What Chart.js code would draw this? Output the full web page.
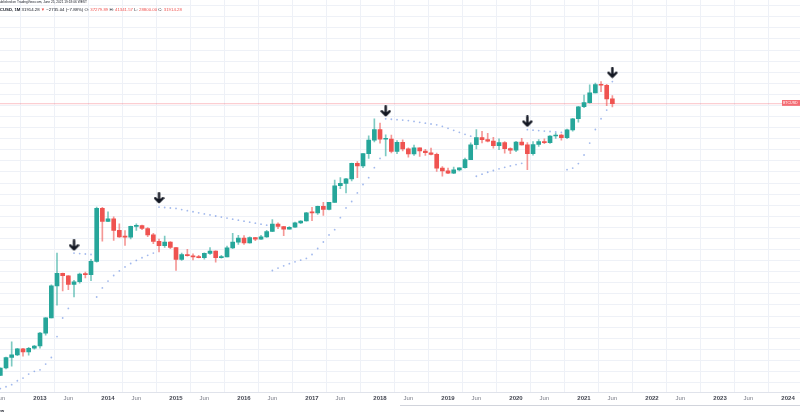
<!DOCTYPE html>
<html><head><meta charset="utf-8">
<script src="https://cdn.jsdelivr.net/npm/chart.js@4.4.0/dist/chart.umd.min.js"></script>
<style>
html,body{margin:0;padding:0;background:#fff;overflow:hidden;}
#wrap{position:relative;width:800px;height:418px;overflow:hidden;}
#c{position:absolute;left:0;top:0;}
.t{position:absolute;white-space:nowrap;font-family:"Liberation Sans",Arial,sans-serif;color:#131722;transform-origin:0 0;font-size:8px;line-height:8px;}
.r{color:#ef5350;}
</style></head><body>
<div id="wrap">
<canvas id="c" width="800" height="418"></canvas>
<div class="t" style="left:-2px;top:1px;transform:scale(0.4);">published on TradingView.com, June 25, 2021 19:18:06 WEST</div>
<div class="t" style="left:-6px;top:8px;transform:scale(0.54);"><b>BTCUSD, 1M</b> 31914.28 <span class="r">▼</span> −2735.04 (−7.88%) O: <span class="r">37279.89</span> H: <span class="r">41341.57</span> L: <span class="r">28800.00</span> C: <span class="r">31914.28</span></div>
<div class="t" style="left:782px;top:100px;width:40px;height:13px;background:rgba(242,84,92,0.85);color:#fff;transform:scale(0.45);line-height:13px;padding-left:2px;">BTCUSD</div>
<div style="position:absolute;left:400px;top:405px;width:400px;height:1px;background:#d1d4dc;"></div>
<div class="t" style="left:-5px;top:409px;transform:scale(0.5);font-weight:bold;">View</div>
</div>
<script>
// ---- categories (monthly bars) ----
const months = [
'2012-06','2012-07','2012-08','2012-09','2012-10','2012-11','2012-12',
'2013-01','2013-02','2013-03','2013-04','2013-05','2013-06','2013-07','2013-08','2013-09','2013-10','2013-11','2013-12',
'2014-01','2014-02','2014-03','2014-04','2014-05','2014-06','2014-07','2014-08','2014-09','2014-10','2014-11','2014-12',
'2015-01','2015-02','2015-03','2015-04','2015-05','2015-06','2015-07','2015-08','2015-09','2015-10','2015-11','2015-12',
'2016-01','2016-02','2016-03','2016-04','2016-05','2016-06','2016-07','2016-08','2016-09','2016-10','2016-11','2016-12',
'2017-01','2017-02','2017-03','2017-04','2017-05','2017-06','2017-07','2017-08','2017-09','2017-10','2017-11','2017-12',
'2018-01','2018-02','2018-03','2018-04','2018-05','2018-06','2018-07','2018-08','2018-09','2018-10','2018-11','2018-12',
'2019-01','2019-02','2019-03','2019-04','2019-05','2019-06','2019-07','2019-08','2019-09','2019-10','2019-11','2019-12',
'2020-01','2020-02','2020-03','2020-04','2020-05','2020-06','2020-07','2020-08','2020-09','2020-10','2020-11','2020-12',
'2021-01','2021-02','2021-03','2021-04','2021-05','2021-06'];

const open = [
5.26,6.69,9.35,10.15,12.40,11.20,12.57,
13.51,20.41,33.38,93.03,139.0,128.5,97.0,106.2,135.35,133.0,204.0,1120,
732,800,550,445,443,627,640,585,477,386,338,378,
318,217,254,244,236,230,263,284,230,236,314,377,
430,368,437,416,448,531,673,624,573,608,700,743,
966,965,1190,1080,1348,2300,2480,2875,4735,4340,6450,9950,
13880,10220,10310,6925,9240,7490,6390,7730,7010,6625,6300,4040,
3700,3440,3820,4100,5330,8560,10820,10080,9600,8300,9150,7560,
7190,9350,8530,6410,8630,9450,9140,11350,11660,10780,13800,19700,
28990,33110,45250,58800,57700,37279.89];

const high = [
6.70,9.50,15.40,12.50,12.50,12.95,13.80,
21.0,33.5,96.0,266,140,129,111,140,145,217,1163,1155,
1000,850,680,545,630,680,650,600,500,415,460,385,
320,265,300,260,248,268,318,285,247,334,500,470,
465,448,441,468,550,780,703,626,620,720,756,980,
1153,1200,1350,1350,2760,2980,2920,4760,4980,6470,11400,19666,
17170,11780,11660,9770,9990,7770,8500,7750,7400,7680,6550,4240,
4070,4200,4100,5600,9090,13880,13180,12330,10900,10360,9510,7750,
9580,10500,9190,9460,10070,10380,11450,12480,12050,14100,19900,29300,
41950,58350,61780,64900,59500,41341.57];

const low = [
5.23,6.50,7.10,9.90,9.80,10.10,12.20,
12.60,19.10,33.20,50.0,79.0,82.0,65.0,101.0,120.0,110.0,199.0,390,
730,400,440,340,420,550,565,450,360,275,320,305,
152,210,240,214,227,218,255,198,225,235,306,350,
350,365,396,413,440,530,580,465,570,605,680,740,
750,920,891,1060,1346,2100,1830,2690,2980,4110,5520,9380,
9000,6000,6600,6430,7040,5750,6100,5880,6100,6200,3650,3120,
3400,3390,3700,4050,5330,7500,9060,9350,7700,7300,6520,6430,
6850,8450,3850,6150,8120,8900,8970,10530,9880,10380,13200,17600,
28130,32400,45000,47000,30000,28800];

const close = [
6.69,9.35,10.15,12.40,11.20,12.57,13.51,
20.41,33.38,93.03,139.0,128.5,97.0,106.2,135.35,133.0,204.0,1120,732,
800,550,445,443,627,640,585,477,386,338,378,318,
217,254,244,236,230,263,284,230,236,314,377,430,
368,437,416,448,531,673,624,573,608,700,743,966,
965,1190,1080,1348,2300,2480,2875,4735,4340,6450,9950,13880,
10220,10310,6925,9240,7490,6390,7730,7010,6625,6300,4040,3700,
3440,3820,4100,5330,8560,10820,10080,9600,8300,9150,7560,7190,
9350,8530,6410,8630,9450,9140,11350,11660,10780,13800,19700,28990,
33110,45250,58800,57700,37279.89,31914.28];

// Parabolic SAR dots
const sar = [
3.46,3.66,3.91,4.44,4.84,5.50,6.00,
6.31,7.57,9.36,18.3,33.2,45.1,266,262,258,254,65,87,
108.5,129.6,150.3,170.6,190.5,209.9,229,247.6,265.9,1163,1145,1128,
1111,1072,1036,1000,966,934,903,873,844,816,789,764,
739,716,693,672,651,152,164.6,176.9,189,200.8,212.4,223.8,
254,307.9,379.3,476.4,563.8,827.3,1128.7,1387.9,1830,2397,2980,4110,
5520,19666,19393,19125,18862,18605,18091,17597,17123,16669,16232,15477,
14488,13579,12742,11972,11264,3120,3335,3546,3753,3955,4154,4348,
4539,4726,13880,13679,13483,13290,13101,12916,12735,3850,4055,4689,
6166,9028,13961,19699,26027,64900];

// signal arrows
const arrowMonths = ['2013-07','2014-10','2018-02','2020-03','2021-06'];
const arrowPrices = [342, 1556, 25200, 18110, 86450];

// x-axis tick labels
const tickMonths = ['2012-06','2013-01','2013-06','2014-01','2014-06','2015-01','2015-06','2016-01','2016-06',
'2017-01','2017-06','2018-01','2018-06','2019-01','2019-06','2020-01','2020-06','2021-01','2021-06',
'2022-01','2022-06','2023-01','2023-06','2024-01'];
const tickLabels = ['Jun','2013','Jun','2014','Jun','2015','Jun','2016','Jun','2017','Jun','2018','Jun',
'2019','Jun','2020','Jun','2021','Jun','2022','Jun','2023','Jun','2024'];

const lastPrice = 31914.28;

// ---------------------------------------------------------
const idx = s => { const [y,m] = s.split('-').map(Number); return (y-2013)*12 + (m-1); };
const X_MIN = -7.06, X_MAX = 134.11;
const Y_MIN = 3.017, Y_MAX = 886700;

const GREEN = '#26a69a', RED = '#ef5350';
const up = close.map((c,i)=> c >= open[i]);
const bodyColors = up.map(u => u ? GREEN : RED);
const wickColors = up.map(u => u ? 'rgba(38,166,154,0.6)' : 'rgba(239,83,80,0.6)');

const labelMap = {};
tickMonths.forEach((m,i)=>{ labelMap[idx(m)] = tickLabels[i]; });

// arrow marker
const ac = document.createElement('canvas'); ac.width = 11; ac.height = 12;
(function(){ const g = ac.getContext('2d'); g.strokeStyle = '#131722'; g.lineWidth = 2.4; g.lineCap = 'round'; g.lineJoin = 'round';
  g.beginPath(); g.moveTo(5.5,1.2); g.lineTo(5.5,10); g.moveTo(1.6,6.2); g.lineTo(5.5,10.2); g.lineTo(9.4,6.2); g.stroke(); })();

const GRID = '#eef1f7';

new Chart(document.getElementById('c'), {
  type: 'bar',
  data: {
    datasets: [
      { type:'line', label:'arrows', data: arrowMonths.map((m,i)=>({x: idx(m), y: arrowPrices[i]})),
        showLine:false, pointStyle: ac, pointRadius: 6, order: 0, clip: false },
      { type:'line', label:'sar', data: months.map((m,i)=>({x: idx(m), y: sar[i]})),
        showLine:false, pointRadius: 0.9, pointHoverRadius: 0.9, pointBorderWidth: 0,
        pointBackgroundColor: 'rgba(70,115,220,0.5)', order: 1 },
      { type:'bar', label:'body', data: months.map((m,i)=>({x: idx(m), y: [open[i], close[i]]})),
        backgroundColor: bodyColors, barThickness: 4, grouped:false, minBarLength: 1, borderWidth: 0, order: 2 },
      { type:'bar', label:'wick', data: months.map((m,i)=>({x: idx(m), y: [low[i], high[i]]})),
        backgroundColor: wickColors, barThickness: 1, grouped:false, borderWidth: 0, order: 3 },
      { type:'line', label:'price', data: [{x: X_MIN, y: lastPrice}, {x: X_MAX, y: lastPrice}],
        borderColor: 'rgba(242,54,69,0.3)', borderWidth: 1, pointRadius: 0, order: 4 }
    ]
  },
  options: {
    responsive: false, animation: false, events: [],
    layout: { autoPadding: false, padding: { top: 0, left: 0, right: 0, bottom: 14 } },
    plugins: { legend: { display: false }, tooltip: { enabled: false } },
    scales: {
      x: {
        type: 'linear', min: X_MIN, max: X_MAX, bounds: 'data', offset: false,
        grid: { color: GRID, drawTicks: false, lineWidth: 1 },
        border: { display: true, color: '#e0e3eb' },
        ticks: {
          autoSkip: false, maxRotation: 0, padding: 2,
          font: ctx => ({ family: '"Liberation Sans", Arial, sans-serif', size: 6,
                         weight: (ctx.tick && /^\d/.test(labelMap[ctx.tick.value]||'')) ? 'bold' : 'normal' }),
          color: ctx => (ctx.tick && /^\d/.test(labelMap[ctx.tick.value]||'')) ? '#434651' : '#787b86',
          callback: v => labelMap[v] ?? ''
        },
        afterBuildTicks: s => { s.ticks = tickMonths.map(m => ({ value: idx(m) })); },
        afterFit: s => { s.paddingLeft = 0; s.paddingRight = 0; }
      },
      y: {
        type: 'logarithmic', min: Y_MIN, max: Y_MAX, bounds: 'data',
        grid: { color: GRID, drawTicks: false, lineWidth: 1 },
        border: { display: false },
        ticks: { display: false },
        afterBuildTicks: s => {
          const t = [];
          for (let k = 0; k < 36; k++) t.push({ value: Math.pow(10, 0.6222 + k * 0.15429) });
          s.ticks = t;
        }
      }
    }
  }
});
</script>
</body></html>
